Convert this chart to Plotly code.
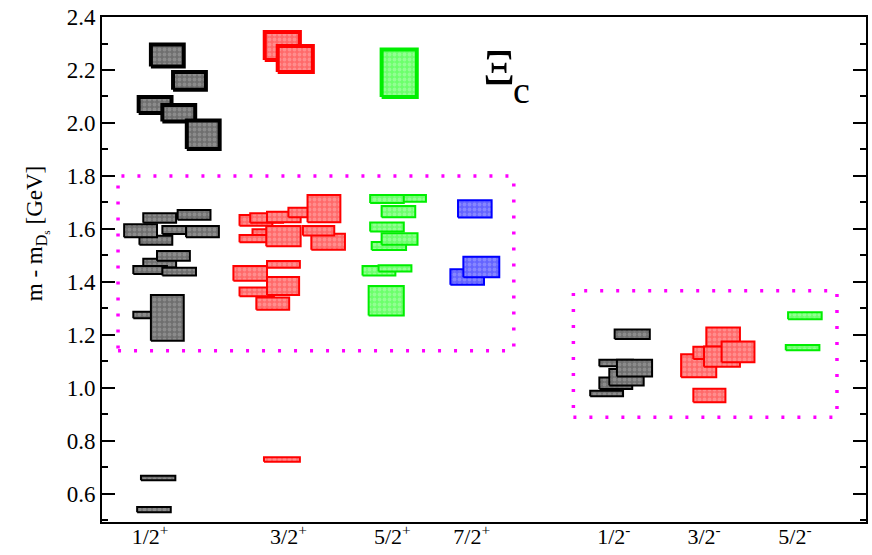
import plotly.graph_objects as go

# Spin-parity channels on the horizontal axis
jp_labels = ["1/2<sup>+</sup>", "3/2<sup>+</sup>", "5/2<sup>+</sup>", "7/2<sup>+</sup>",
             "1/2<sup>-</sup>", "3/2<sup>-</sup>", "5/2<sup>-</sup>"]
jp_pos = [0.63, 2.44, 3.80, 4.84, 6.70, 7.88, 9.07]

# Mass bands m - m_Ds (GeV): horizontal slot [x_lo, x_hi], band [m_lo, m_hi]
# --- highest positive-parity states
blk_hi_xlo = [0.64, 0.93, 0.48, 0.79, 1.11]
blk_hi_xhi = [1.07, 1.36, 0.91, 1.22, 1.54]
blk_hi_mlo = [2.213, 2.125, 2.038, 2.006, 1.902]
blk_hi_mhi = [2.296, 2.192, 2.098, 2.068, 2.009]

red_hi_xlo = [2.13, 2.30]
red_hi_xhi = [2.59, 2.76]
red_hi_mlo = [2.238, 2.192]
red_hi_mhi = [2.343, 2.291]

grn_hi_xlo = [3.66]
grn_hi_xhi = [4.12]
grn_hi_mlo = [2.098]
grn_hi_mhi = [2.277]

# --- J = 1/2+
blk_pos_xlo = [0.54, 0.99, 0.49, 0.29, 0.79, 1.10, 0.54, 0.72, 0.41, 0.79, 0.41, 0.64, 0.51, 0.46]
blk_pos_xhi = [0.97, 1.42, 0.92, 0.72, 1.31, 1.53, 0.97, 1.15, 0.85, 1.23, 0.84, 1.07, 0.96, 0.90]
blk_pos_mlo = [1.623, 1.635, 1.540, 1.569, 1.581, 1.569, 1.455, 1.480, 1.430, 1.424, 1.263, 1.178, 0.652, 0.531]
blk_pos_mhi = [1.659, 1.672, 1.574, 1.618, 1.611, 1.611, 1.488, 1.517, 1.460, 1.454, 1.288, 1.351, 0.669, 0.551]

# --- J = 3/2+
red_pos_xlo = [1.80, 1.94, 2.16, 2.44, 2.69, 1.80, 1.97, 2.15, 2.74, 2.63, 2.16, 1.72, 2.02, 1.80, 2.16, 2.12]
red_pos_xhi = [2.23, 2.37, 2.60, 2.87, 3.12, 2.23, 2.40, 2.60, 3.18, 3.04, 2.59, 2.16, 2.45, 2.25, 2.58, 2.59]
red_pos_mlo = [1.612, 1.623, 1.625, 1.644, 1.625, 1.550, 1.577, 1.535, 1.522, 1.575, 1.454, 1.405, 1.295, 1.346, 1.351, 0.721]
red_pos_mhi = [1.653, 1.659, 1.665, 1.680, 1.728, 1.577, 1.599, 1.611, 1.582, 1.611, 1.479, 1.460, 1.341, 1.379, 1.419, 0.738]

# --- J = 5/2+
grn_pos_xlo = [3.80, 3.51, 3.66, 3.51, 3.53, 3.66, 3.41, 3.62, 3.49]
grn_pos_xhi = [4.24, 3.95, 4.10, 3.95, 3.98, 4.13, 3.84, 4.05, 3.95]
grn_pos_mlo = [1.703, 1.698, 1.644, 1.590, 1.521, 1.540, 1.424, 1.439, 1.273]
grn_pos_mhi = [1.728, 1.728, 1.687, 1.624, 1.551, 1.584, 1.460, 1.463, 1.385]

# --- J = 7/2+
blu_pos_xlo = [4.66, 4.56, 4.73]
blu_pos_xhi = [5.10, 5.00, 5.20]
blu_pos_mlo = [1.643, 1.389, 1.418]
blu_pos_mhi = [1.708, 1.448, 1.495]

# --- negative parity
blk_neg_xlo = [6.71, 6.39, 6.51, 6.64, 6.51, 6.74]
blk_neg_xhi = [7.17, 6.82, 6.94, 7.09, 6.95, 7.20]
blk_neg_mlo = [1.185, 0.969, 0.996, 1.009, 1.082, 1.043]
blk_neg_mhi = [1.221, 0.989, 1.039, 1.071, 1.106, 1.106]

red_neg_xlo = [7.91, 7.74, 7.58, 7.74, 7.88, 8.11]
red_neg_xhi = [8.35, 8.16, 8.04, 8.21, 8.35, 8.54]
red_neg_mlo = [1.132, 0.946, 1.040, 1.109, 1.080, 1.097]
red_neg_mhi = [1.228, 0.997, 1.127, 1.155, 1.156, 1.175]

grn_neg_xlo = [8.98, 8.95]
grn_neg_xhi = [9.42, 9.39]
grn_neg_mlo = [1.259, 1.142]
grn_neg_mhi = [1.286, 1.162]

# Dotted regions grouping the lower-lying bands: [x_lo, x_hi, m_lo, m_hi]
region_pos = [0.21, 5.39, 1.14, 1.80]
region_neg = [6.17, 9.62, 0.889, 1.367]

# Colour schemes: border, fill, pattern
BLACK = ("#000000", "#6f6f6f", "#a8a8a8")
RED = ("#ff0000", "#ff6a6a", "#ffb0b0")
GREEN = ("#00ee00", "#6cff6c", "#b8ffb8")
BLUE = ("#0000ff", "#6464ff", "#a8a8ff")

groups = [
    (blk_hi_xlo, blk_hi_xhi, blk_hi_mlo, blk_hi_mhi, BLACK, 4),
    (red_hi_xlo, red_hi_xhi, red_hi_mlo, red_hi_mhi, RED, 4),
    (grn_hi_xlo, grn_hi_xhi, grn_hi_mlo, grn_hi_mhi, GREEN, 4),
    (blk_pos_xlo, blk_pos_xhi, blk_pos_mlo, blk_pos_mhi, BLACK, 2),
    (red_pos_xlo, red_pos_xhi, red_pos_mlo, red_pos_mhi, RED, 2),
    (grn_pos_xlo, grn_pos_xhi, grn_pos_mlo, grn_pos_mhi, GREEN, 2),
    (blu_pos_xlo, blu_pos_xhi, blu_pos_mlo, blu_pos_mhi, BLUE, 2),
    (blk_neg_xlo, blk_neg_xhi, blk_neg_mlo, blk_neg_mhi, BLACK, 2),
    (red_neg_xlo, red_neg_xhi, red_neg_mlo, red_neg_mhi, RED, 2),
    (grn_neg_xlo, grn_neg_xhi, grn_neg_mlo, grn_neg_mhi, GREEN, 2),
]

fig = go.Figure()

# Dotted magenta frames
for x0, x1, y0, y1 in (region_pos, region_neg):
    fig.add_shape(type="rect", x0=x0, x1=x1, y0=y0, y1=y1, xref="x", yref="y",
                  line=dict(color="#ff00ff", width=3.5, dash="3px,13px"),
                  fillcolor="rgba(0,0,0,0)", layer="below")

# Hatched mass bands
for xlo, xhi, mlo, mhi, (edge, base, pat), lw in groups:
    for x0, x1, y0, y1 in zip(xlo, xhi, mlo, mhi):
        fig.add_trace(go.Scatter(
            x=[x0, x1, x1, x0, x0], y=[y0, y0, y1, y1, y0],
            mode="lines", fill="toself",
            line=dict(color=edge, width=lw),
            fillcolor=base,
            fillpattern=dict(shape=".", bgcolor=base, fgcolor=pat, size=5, solidity=0.45),
            hoverinfo="skip", showlegend=False,
        ))

serif = "Liberation Serif, Times New Roman, serif"

# Baryon label
fig.add_annotation(x=5.20, y=2.211, xref="x", yref="y", text="\u039e", showarrow=False,
                   font=dict(family=serif, size=50, color="black"))
fig.add_annotation(x=5.49, y=2.125, xref="x", yref="y", text="c", showarrow=False,
                   font=dict(family=serif, size=38, color="black"))

# Vertical axis title
fig.add_annotation(x=-0.085, y=0.57, xref="paper", yref="paper", xanchor="center", yanchor="middle",
                   text="m - m<sub>D<sub>s</sub></sub> [GeV]", textangle=-90, showarrow=False,
                   font=dict(family=serif, size=23, color="black"))

fig.update_layout(
    width=872, height=555,
    margin=dict(l=102, r=6, t=17, b=33),
    plot_bgcolor="white", paper_bgcolor="white",
    font=dict(family=serif, color="black"),
    xaxis=dict(range=[0, 10], tickvals=jp_pos, ticktext=jp_labels, ticks="",
               showline=True, linecolor="black", linewidth=2, mirror=True, automargin=False,
               ticklabelstandoff=-6,
               showgrid=False, zeroline=False, tickfont=dict(size=22)),
    yaxis=dict(range=[0.494, 2.4], tick0=0.6, dtick=0.2, tickformat=".1f", automargin=False,
               ticks="inside", ticklen=13, tickwidth=2, tickcolor="black",
               minor=dict(ticks="inside", ticklen=6, tickwidth=2, dtick=0.1, tick0=0.5,
                          tickcolor="black", showgrid=False),
               showline=True, linecolor="black", linewidth=2, mirror="ticks",
               showgrid=False, zeroline=False, tickfont=dict(size=23)),
)

fig.write_html("out.html")
